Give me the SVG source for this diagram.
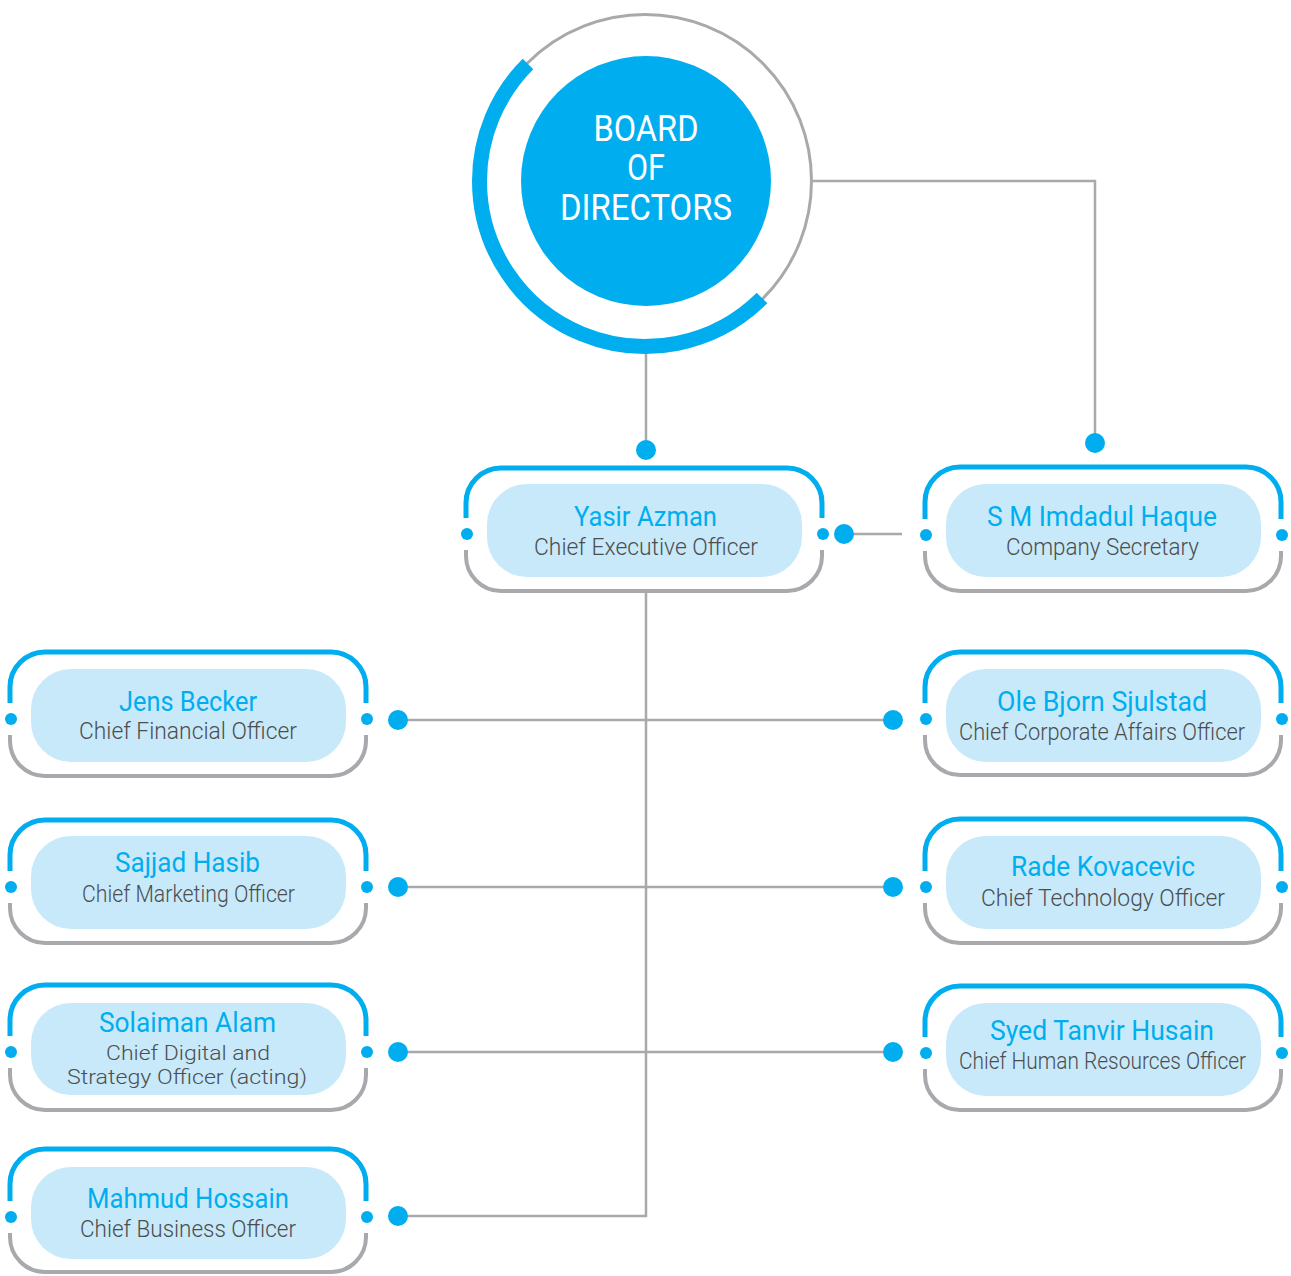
<svg xmlns="http://www.w3.org/2000/svg" width="1291" height="1276" viewBox="0 0 1291 1276">
<style>
.bg{fill:#ffffff}
.ln{fill:none;stroke:#A7A9AC;stroke-width:2.5}
.dot{fill:#00AEEF}
.top{fill:none;stroke:#00AEEF;stroke-width:5}
.bot{fill:none;stroke:#A7A9AC;stroke-width:4}
.pill{fill:#C7E9F9}
.nm{font-family:Roboto,"Liberation Sans",sans-serif;font-size:27px;fill:#00AEEF}
.tt{font-family:Roboto,"Liberation Sans",sans-serif;font-size:23px;fill:#4D4D4F;font-weight:300}
.tt2{font-family:Roboto,"Liberation Sans",sans-serif;font-size:20px;fill:#4D4D4F;font-weight:300}
.bd{font-family:Roboto,"Liberation Sans",sans-serif;font-size:36px;fill:#ffffff;text-anchor:middle}
</style>
<rect class="bg" x="0" y="0" width="1291" height="1276"/>

<g id="connectors">
  <path class="ln" d="M813 181 H1095 V443"/>
  <path class="ln" d="M646 349 V450"/>
  <path class="ln" d="M844 534 H902"/>
  <path class="ln" d="M646 593 V1216 H398"/>
  <path class="ln" d="M398 720 H893"/>
  <path class="ln" d="M398 887 H893"/>
  <path class="ln" d="M398 1052 H893"/>
  <circle class="dot" cx="1095" cy="443" r="10"/>
  <circle class="dot" cx="646" cy="450" r="10"/>
  <circle class="dot" cx="844" cy="534" r="10"/>
  <circle class="dot" cx="398" cy="720" r="10"/>
  <circle class="dot" cx="893" cy="720" r="10"/>
  <circle class="dot" cx="398" cy="887" r="10"/>
  <circle class="dot" cx="893" cy="887" r="10"/>
  <circle class="dot" cx="398" cy="1052" r="10"/>
  <circle class="dot" cx="893" cy="1052" r="10"/>
  <circle class="dot" cx="398" cy="1216" r="10"/>
</g>

<g id="board">
  <circle cx="645" cy="181" r="166.5" fill="none" stroke="#A7A9AC" stroke-width="3"/>
  <path d="M528 64 A165.5 165.5 0 0 0 479.5 181 A165.5 165.5 0 0 0 762 298" fill="none" stroke="#00AEEF" stroke-width="15"/>
  <circle cx="646" cy="181" r="125" fill="#00AEEF"/>
  <text class="bd" x="646" y="141" textLength="105" lengthAdjust="spacingAndGlyphs">BOARD</text>
  <text class="bd" x="646" y="180" textLength="38" lengthAdjust="spacingAndGlyphs">OF</text>
  <text class="bd" x="646" y="220" textLength="172" lengthAdjust="spacingAndGlyphs">DIRECTORS</text>
</g>

<g id="ceo">
  <path class="top" d="M466 518 V503 A35 35 0 0 1 501 468 H787 A35 35 0 0 1 822 503 V518"/>
  <path class="bot" d="M466 550 V556 A35 35 0 0 0 501 591 H787 A35 35 0 0 0 822 556 V550"/>
  <circle class="dot" cx="467" cy="534" r="6"/>
  <circle class="dot" cx="823" cy="534" r="6"/>
  <rect class="pill" x="487" y="484" width="315" height="93" rx="40"/>
  <text class="nm" x="574" y="526" textLength="143" lengthAdjust="spacingAndGlyphs">Yasir Azman</text>
  <text class="tt" x="534" y="555" textLength="224" lengthAdjust="spacingAndGlyphs">Chief Executive Officer</text>
</g>

<g id="secretary">
  <path class="top" d="M925 519 V502 A35 35 0 0 1 960 467 H1246 A35 35 0 0 1 1281 502 V519"/>
  <path class="bot" d="M925 551 V556 A35 35 0 0 0 960 591 H1246 A35 35 0 0 0 1281 556 V551"/>
  <circle class="dot" cx="926" cy="535" r="6"/>
  <circle class="dot" cx="1282" cy="535" r="6"/>
  <rect class="pill" x="946" y="484" width="315" height="93" rx="40"/>
  <text class="nm" x="987" y="526" textLength="230" lengthAdjust="spacingAndGlyphs">S M Imdadul Haque</text>
  <text class="tt" x="1006" y="555" textLength="193" lengthAdjust="spacingAndGlyphs">Company Secretary</text>
</g>

<g id="cfo">
  <path class="top" d="M10 703 V687 A35 35 0 0 1 45 652 H331 A35 35 0 0 1 366 687 V703"/>
  <path class="bot" d="M10 735 V741 A35 35 0 0 0 45 776 H331 A35 35 0 0 0 366 741 V735"/>
  <circle class="dot" cx="11" cy="719" r="6"/>
  <circle class="dot" cx="367" cy="719" r="6"/>
  <rect class="pill" x="31" y="669" width="315" height="93" rx="40"/>
  <text class="nm" x="119" y="711" textLength="138" lengthAdjust="spacingAndGlyphs">Jens Becker</text>
  <text class="tt" x="79" y="739" textLength="218" lengthAdjust="spacingAndGlyphs">Chief Financial Officer</text>
</g>

<g id="ccao">
  <path class="top" d="M925 703 V687 A35 35 0 0 1 960 652 H1246 A35 35 0 0 1 1281 687 V703"/>
  <path class="bot" d="M925 735 V740 A35 35 0 0 0 960 775 H1246 A35 35 0 0 0 1281 740 V735"/>
  <circle class="dot" cx="926" cy="719" r="6"/>
  <circle class="dot" cx="1282" cy="719" r="6"/>
  <rect class="pill" x="946" y="669" width="315" height="93" rx="40"/>
  <text class="nm" x="997" y="711" textLength="210" lengthAdjust="spacingAndGlyphs">Ole Bjorn Sjulstad</text>
  <text class="tt" x="959" y="740" textLength="286" lengthAdjust="spacingAndGlyphs">Chief Corporate Affairs Officer</text>
</g>

<g id="cmo">
  <path class="top" d="M10 871 V855 A35 35 0 0 1 45 820 H331 A35 35 0 0 1 366 855 V871"/>
  <path class="bot" d="M10 903 V908 A35 35 0 0 0 45 943 H331 A35 35 0 0 0 366 908 V903"/>
  <circle class="dot" cx="11" cy="887" r="6"/>
  <circle class="dot" cx="367" cy="887" r="6"/>
  <rect class="pill" x="31" y="836" width="315" height="93" rx="40"/>
  <text class="nm" x="115" y="872" textLength="145" lengthAdjust="spacingAndGlyphs">Sajjad Hasib</text>
  <text class="tt" x="82" y="902" textLength="213" lengthAdjust="spacingAndGlyphs">Chief Marketing Officer</text>
</g>

<g id="cto">
  <path class="top" d="M925 871 V854 A35 35 0 0 1 960 819 H1246 A35 35 0 0 1 1281 854 V871"/>
  <path class="bot" d="M925 903 V908 A35 35 0 0 0 960 943 H1246 A35 35 0 0 0 1281 908 V903"/>
  <circle class="dot" cx="926" cy="887" r="6"/>
  <circle class="dot" cx="1282" cy="887" r="6"/>
  <rect class="pill" x="946" y="836" width="315" height="93" rx="40"/>
  <text class="nm" x="1011" y="876" textLength="184" lengthAdjust="spacingAndGlyphs">Rade Kovacevic</text>
  <text class="tt" x="981" y="906" textLength="244" lengthAdjust="spacingAndGlyphs">Chief Technology Officer</text>
</g>

<g id="cdso">
  <path class="top" d="M10 1036 V1020 A35 35 0 0 1 45 985 H331 A35 35 0 0 1 366 1020 V1036"/>
  <path class="bot" d="M10 1068 V1075 A35 35 0 0 0 45 1110 H331 A35 35 0 0 0 366 1075 V1068"/>
  <circle class="dot" cx="11" cy="1052" r="6"/>
  <circle class="dot" cx="367" cy="1052" r="6"/>
  <rect class="pill" x="31" y="1003" width="315" height="92" rx="40"/>
  <text class="nm" x="99" y="1032" textLength="177" lengthAdjust="spacingAndGlyphs">Solaiman Alam</text>
  <text class="tt2" x="106" y="1060" textLength="164" lengthAdjust="spacingAndGlyphs">Chief Digital and</text>
  <text class="tt2" x="67" y="1084" textLength="240" lengthAdjust="spacingAndGlyphs">Strategy Officer (acting)</text>
</g>

<g id="chro">
  <path class="top" d="M925 1037 V1021 A35 35 0 0 1 960 986 H1246 A35 35 0 0 1 1281 1021 V1037"/>
  <path class="bot" d="M925 1069 V1075 A35 35 0 0 0 960 1110 H1246 A35 35 0 0 0 1281 1075 V1069"/>
  <circle class="dot" cx="926" cy="1053" r="6"/>
  <circle class="dot" cx="1282" cy="1053" r="6"/>
  <rect class="pill" x="946" y="1003" width="315" height="93" rx="40"/>
  <text class="nm" x="990" y="1040" textLength="224" lengthAdjust="spacingAndGlyphs">Syed Tanvir Husain</text>
  <text class="tt" x="959" y="1069" textLength="287" lengthAdjust="spacingAndGlyphs">Chief Human Resources Officer</text>
</g>

<g id="cbo">
  <path class="top" d="M10 1201 V1184 A35 35 0 0 1 45 1149 H331 A35 35 0 0 1 366 1184 V1201"/>
  <path class="bot" d="M10 1233 V1237 A35 35 0 0 0 45 1272 H331 A35 35 0 0 0 366 1237 V1233"/>
  <circle class="dot" cx="11" cy="1217" r="6"/>
  <circle class="dot" cx="367" cy="1217" r="6"/>
  <rect class="pill" x="31" y="1167" width="315" height="92" rx="40"/>
  <text class="nm" x="87" y="1208" textLength="202" lengthAdjust="spacingAndGlyphs">Mahmud Hossain</text>
  <text class="tt" x="80" y="1237" textLength="216" lengthAdjust="spacingAndGlyphs">Chief Business Officer</text>
</g>
</svg>
